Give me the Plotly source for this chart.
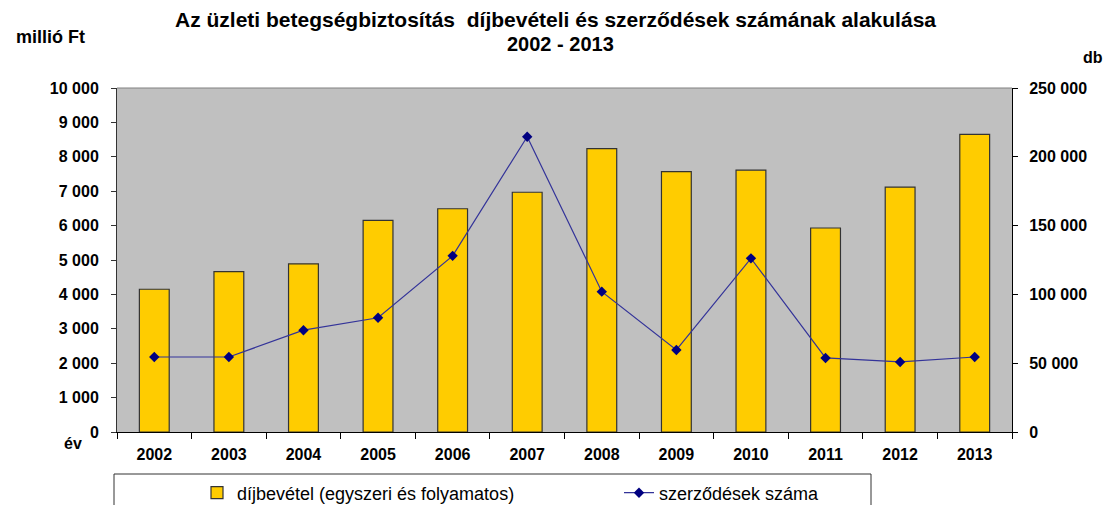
import plotly.graph_objects as go

years = ["2002", "2003", "2004", "2005", "2006", "2007", "2008", "2009", "2010", "2011", "2012", "2013"]
dijbevetel = [4150, 4660, 4890, 6150, 6490, 6970, 8240, 7570, 7610, 5930, 7120, 8650]
szerzodesek = [54500, 54500, 74000, 83000, 128000, 214600, 102000, 59600, 126200, 53800, 50900, 54500]

left_ticks = list(range(0, 10001, 1000))
left_labels = [f"{v:,}".replace(",", " ") for v in left_ticks]
right_ticks = list(range(0, 250001, 50000))
right_labels = [f"{v:,}".replace(",", " ") for v in right_ticks]

FONT = "Liberation Sans, Arial, sans-serif"
W, H = 1107, 505
L, R, T, B = 117, 95, 88, 73
TICKF = 16

fig = go.Figure()
fig.add_trace(go.Bar(
    x=years, y=dijbevetel, name="díjbevétel (egyszeri és folyamatos)",
    marker=dict(color="#FFCC00", line=dict(color="#333333", width=1.2)),
    width=0.4, yaxis="y",
))
fig.add_trace(go.Scatter(
    x=years, y=szerzodesek, name="szerződések száma", yaxis="y2",
    mode="lines+markers",
    line=dict(color="#333399", width=1.2),
    marker=dict(symbol="diamond", size=8, color="#000080"),
))

fig.update_layout(
    width=W, height=H,
    margin=dict(l=L, r=R, t=T, b=B),
    paper_bgcolor="white", plot_bgcolor="#C0C0C0",
    font=dict(family=FONT, color="black", size=13),
    showlegend=True,
    legend=dict(
        orientation="h", xref="container", yref="container",
        x=197 / W, xanchor="left", y=1 - 493 / H, yanchor="middle",
        font=dict(family=FONT, size=18, color="black"),
        bgcolor="rgba(0,0,0,0)", borderwidth=0,
        entrywidth=377, entrywidthmode="pixels",
        traceorder="normal",
    ),
    xaxis=dict(
        type="category", range=[-0.5, len(years) - 0.5],
        showgrid=False, ticks="outside", tickson="boundaries",
        ticklen=6, tickcolor="black", showline=True, linecolor="black", linewidth=1,
        tickfont=dict(family=FONT, size=TICKF, weight="bold"),
        ticklabelstandoff=8,
    ),
    yaxis=dict(
        range=[0, 10000], tickvals=left_ticks, ticktext=left_labels,
        showgrid=False, zeroline=False, ticks="outside", ticklen=5, tickcolor="#333333",
        showline=True, linecolor="#333333", linewidth=1,
        tickfont=dict(family=FONT, size=TICKF, weight="bold"),
        ticklabelstandoff=9,
    ),
    yaxis2=dict(
        overlaying="y", side="right",
        range=[0, 250000], tickvals=right_ticks, ticktext=right_labels,
        showgrid=False, zeroline=False, ticks="outside", ticklen=5, tickcolor="black",
        showline=True, linecolor="black", linewidth=1,
        tickfont=dict(family=FONT, size=TICKF, weight="bold"),
        ticklabelstandoff=8,
    ),
    yaxis3=dict(
        overlaying="y", side="left", range=[0, 10000], tickvals=left_ticks,
        showticklabels=False, showgrid=False, zeroline=False,
        ticks="inside", ticklen=5, tickcolor="#333333", showline=False,
    ),
    yaxis4=dict(
        overlaying="y", side="right", range=[0, 250000], tickvals=right_ticks,
        showticklabels=False, showgrid=False, zeroline=False,
        ticks="inside", ticklen=5, tickcolor="black", showline=False,
    ),
    bargap=0.6,
)

fig.add_shape(type="line", xref="paper", yref="paper", x0=0, x1=1, y0=1, y1=1,
              line=dict(color="#808080", width=1))
PW, PH = W - L - R, H - T - B
fig.add_shape(type="rect", xref="paper", yref="paper",
              x0=(114 - L) / PW, x1=(871 - L) / PW,
              y0=-(H + 10 - (H - B)) / PH, y1=-(474 - (H - B)) / PH,
              line=dict(color="#333333", width=1), fillcolor="rgba(0,0,0,0)")

ann = [
    ("<b>Az üzleti betegségbiztosítás  díjbevételi és szerződések számának alakulása</b>", 555, 19, 21),
    ("<b>2002 - 2013</b>", 560, 44, 20),
    ("<b>millió Ft</b>", 50, 37, 18),
    ("<b>db</b>", 1093, 57, 16),
    ("<b>év</b>", 73, 443, 16),
]
for text, xp, yp, size in ann:
    fig.add_annotation(text=text, xref="paper", yref="paper",
                       x=(xp - L) / PW, y=(H - yp - B) / PH,
                       xanchor="center", yanchor="middle", showarrow=False,
                       font=dict(family=FONT, size=size, color="black"))

fig.write_html("out.html")
